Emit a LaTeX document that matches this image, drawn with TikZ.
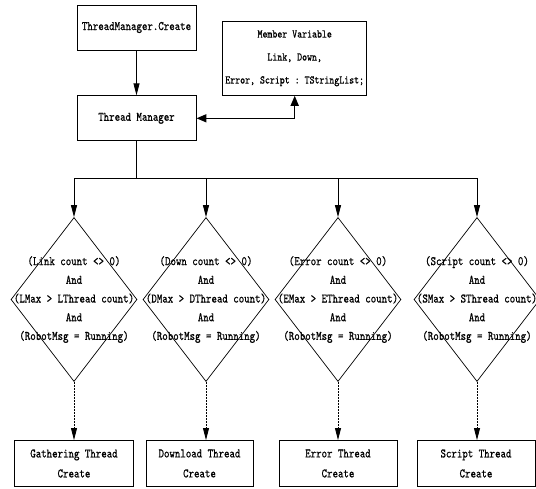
\documentclass[tikz,border=0pt]{standalone}
\usepackage{fontspec}
\setmonofont{lmmono10-regular.otf}[FakeStretch=0.8,FakeBold=0.6]
\usepackage{tikz}
\usetikzlibrary{arrows.meta,positioning,shapes.geometric}

\newcommand{\condlines}[2]{(#1 count <> 0)\\And\\(#2Max > #2Thread count)\\And\\(RobotMsg = Running)}

\begin{document}
\begin{tikzpicture}[x=1pt,y=1pt,node distance=90pt,on grid,
        >={Triangle[length=12pt,width=6pt]},
        box/.style={draw,line width=0.9pt,inner sep=0pt,align=center,
            minimum height=45pt,font=\fontsize{13}{20}\selectfont\ttfamily},
        cond/.style={draw,diamond,line width=0.7pt,inner sep=0pt,
            minimum width=126pt,minimum height=164pt},
        condtext/.style={align=center,inner sep=0pt,
            font=\fontsize{13}{18.7}\selectfont\ttfamily}]
    \useasboundingbox (0,0) rectangle (536,-488);

    \node[box, minimum width=119pt] (create) at (136.5,-27.5) {ThreadManager.Create};
    \node[box, minimum width=119pt] (manager) [below=90.8pt of create] {Thread Manager};
    \node[box, minimum width=144pt, minimum height=74pt,
          font=\fontsize{11.8}{23}\selectfont\ttfamily] (member)
          [above right=60pt and 158.2pt of manager]
          {Member Variable\\Link, Down,\\Error, Script : TStringList;};
    \coordinate[below=60pt of manager] (bus);

    \node[cond, label={[condtext]center:\condlines{Link}{L}}] (d1) at (74,-299.5) {};
    \node[cond, label={[condtext]center:\condlines{Down}{D}}] (d2) [right=132pt of d1] {};
    \node[cond, label={[condtext]center:\condlines{Error}{E}}] (d3) [right=132pt of d2] {};
    \node[cond, label={[condtext]center:\condlines{Script}{S}}] (d4) [right=139pt of d3] {};

    \node[box, minimum width=119pt, minimum height=46pt] (gather) [below=164pt of d1] {Gathering Thread\\Create};
    \node[box, minimum width=107pt, minimum height=46pt] (download) [below left=164pt and 6.5pt of d2] {Download Thread\\Create};
    \node[box, minimum width=118pt, minimum height=46pt] (error) [below=164pt of d3] {Error Thread\\Create};
    \node[box, minimum width=118pt, minimum height=46pt] (script) [below left=164pt and 1pt of d4] {Script Thread\\Create};

    \draw[->, line width=0.8pt] (create) -- (manager);
    \draw[<->, line width=1.5pt, >={Triangle[length=10pt,width=8pt]}]
        (manager.east) -| (member.south);
    \draw[line width=0.9pt] (manager.south) -- (bus);
    \draw[line width=1.6pt] (d1.north |- bus) -- (d4.north |- bus);
    \foreach \d in {d1,d2,d3,d4}
        \draw[->, line width=0.8pt] (\d.north |- bus) -- (\d.north);

    \path[->, line width=0.8pt, dash pattern=on 2pt off 1pt]
        (d1.south) edge (d1.south |- gather.north)
        (d2.south) edge (d2.south |- download.north)
        (d3.south) edge (d3.south |- error.north)
        (d4.south) edge (d4.south |- script.north);
\end{tikzpicture}
\end{document}
